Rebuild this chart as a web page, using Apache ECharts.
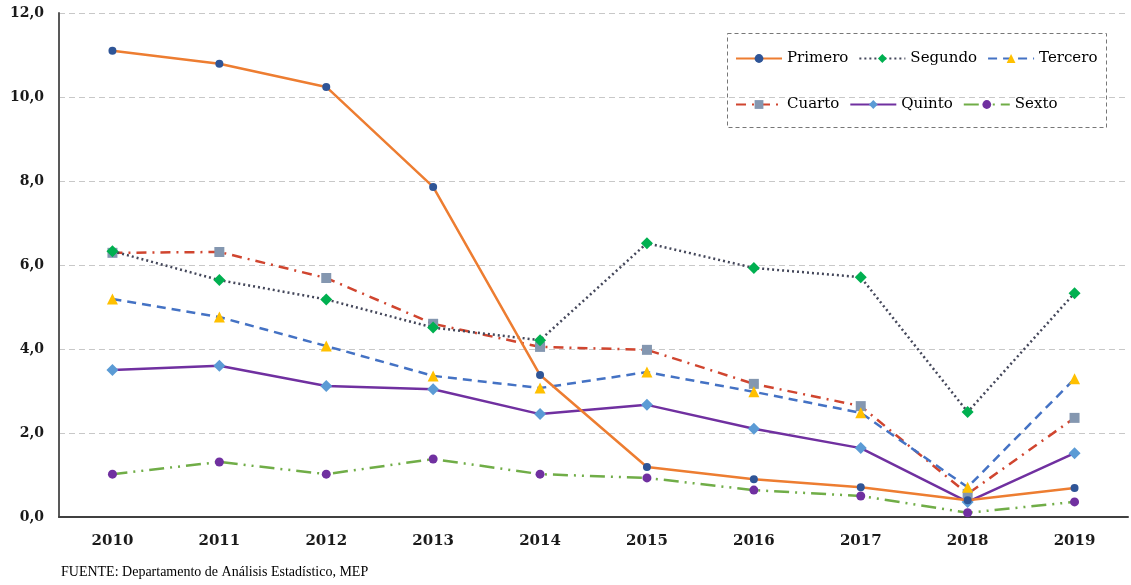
<!DOCTYPE html>
<html><head><meta charset="utf-8">
<script src="https://cdn.jsdelivr.net/npm/echarts@6/dist/echarts.min.js"></script>
<style>html,body{margin:0;padding:0;background:#fff}#c{width:1131px;height:585px}</style>
</head><body><div id="c"></div>
<script>
const years = ['2010','2011','2012','2013','2014','2015','2016','2017','2018','2019'];
const primero = [11.1, 10.79, 10.24, 7.86, 3.38, 1.19, 0.9, 0.71, 0.4, 0.69];
const segundo = [6.33, 5.64, 5.18, 4.51, 4.21, 6.52, 5.93, 5.71, 2.5, 5.33];
const tercero = [5.19, 4.76, 4.07, 3.36, 3.07, 3.45, 2.98, 2.48, 0.71, 3.29];
const cuarto  = [6.29, 6.31, 5.69, 4.6, 4.05, 3.98, 3.17, 2.64, 0.55, 2.36];
const quinto  = [3.5, 3.6, 3.12, 3.04, 2.45, 2.67, 2.1, 1.64, 0.36, 1.52];
const sexto   = [1.02, 1.31, 1.02, 1.38, 1.02, 0.93, 0.64, 0.5, 0.1, 0.36];
const yTicks = [0, 2, 4, 6, 8, 10, 12];
const source = 'FUENTE: Departamento de Análisis Estadístico, MEP';

const SERIF = '"DejaVu Serif", serif';
const NARROW = '"Liberation Serif", serif';
function mk(name, data, color, type, width, symbol, symSize, symColor, z) {
  return {
    name, type: 'line', data, z,
    symbol, symbolSize: symSize,
    lineStyle: { color, type, width },
    itemStyle: { color: symColor, borderWidth: 0 },
    emphasis: { disabled: true },
    animation: false
  };
}
const legendCommon = {
  itemWidth: 46, itemHeight: 11, itemGap: 10, padding: 0,
  textStyle: { fontFamily: SERIF, fontSize: 15, color: '#000', width: 66 },
  selectedMode: false
};
const chart = echarts.init(document.getElementById('c'));
chart.setOption({
  animation: false,
  grid: { left: 59, right: 3, top: 13, bottom: 68 },
  title: {
    text: source, left: 61, top: 565, padding: 0,
    textStyle: { fontFamily: NARROW, fontSize: 14, fontWeight: 'normal', color: '#000' }
  },
  legend: [
    Object.assign({ left: 735, top: 51, data: ['Primero', 'Segundo', 'Tercero'] }, legendCommon),
    Object.assign({ left: 735, top: 97, data: ['Cuarto', 'Quinto', 'Sexto'] }, legendCommon)
  ],
  graphic: [{
    type: 'rect', left: 727, top: 33, z: 100,
    shape: { width: 379, height: 94 },
    style: { fill: 'rgba(0,0,0,0)', stroke: '#777', lineWidth: 1, lineDash: [4, 3] }
  }],
  xAxis: {
    type: 'category', data: years, boundaryGap: true,
    axisLine: { lineStyle: { color: '#404040', width: 2 } },
    axisTick: { alignWithLabel: true, length: 6, lineStyle: { color: '#404040', width: 1.5 } },
    axisLabel: { fontFamily: SERIF, fontWeight: 'bold', fontSize: 15, color: '#1a1a1a', margin: 17 }
  },
  yAxis: {
    type: 'value', min: yTicks[0], max: yTicks[yTicks.length - 1], interval: 2,
    axisLine: { show: true, lineStyle: { color: '#595959', width: 2 } },
    axisTick: { show: false },
    splitLine: { lineStyle: { color: '#c8c8c8', type: [6, 4], width: 1 } },
    axisLabel: {
      fontFamily: SERIF, fontWeight: 'bold', fontSize: 14, color: '#1a1a1a', margin: 15,
      formatter: v => v.toFixed(1).replace('.', ',')
    }
  },
  series: [
    mk('Primero', primero, '#ED7D31', 'solid', 2.5, 'circle', 8, '#2F5597', 7),
    mk('Segundo', segundo, '#44475a', [2, 3], 2.5, 'diamond', 12, '#00B050', 6),
    mk('Tercero', tercero, '#4472C4', [9, 6], 2.5, 'triangle', 11, '#FFC000', 5),
    mk('Cuarto', cuarto, '#D0452F', [10, 6, 2, 6], 2.5, 'rect', 10, '#8497B0', 4),
    mk('Quinto', quinto, '#7030A0', 'solid', 2.5, 'diamond', 12, '#5B9BD5', 3),
    mk('Sexto', sexto, '#70AD47', [15, 6, 2, 6, 2, 6], 2.5, 'circle', 9, '#7030A0', 2)
  ]
});
</script></body></html>
